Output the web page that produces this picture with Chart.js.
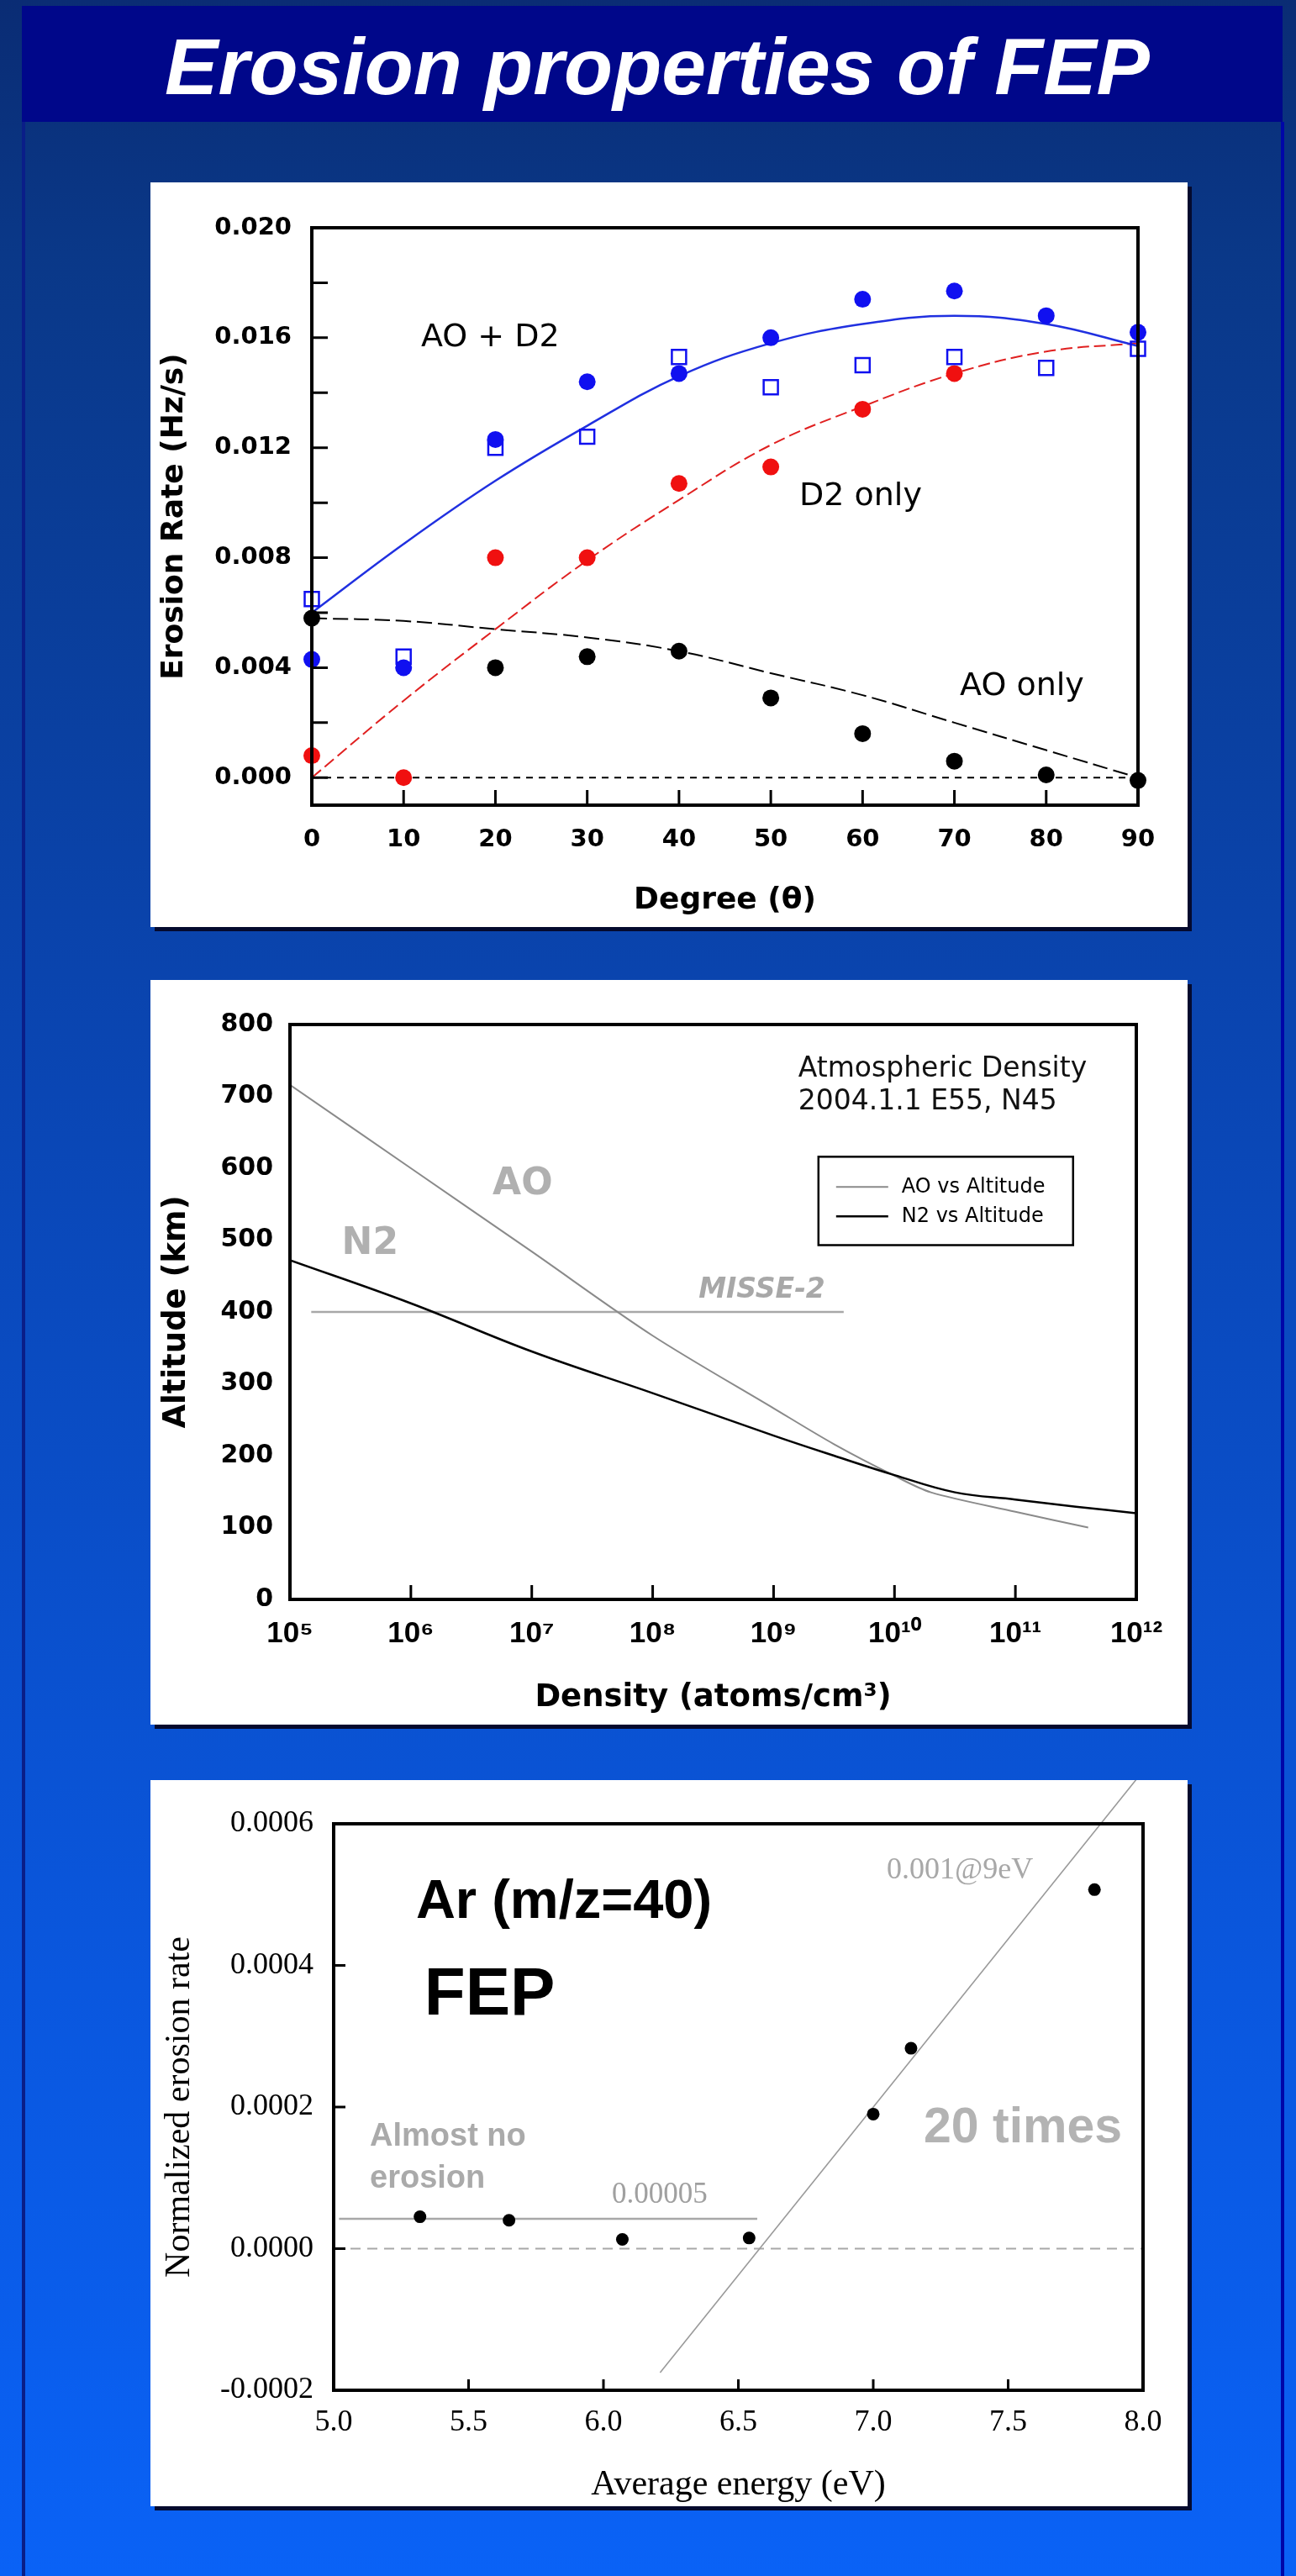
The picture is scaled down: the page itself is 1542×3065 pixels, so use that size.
<!DOCTYPE html>
<html>
<head>
<meta charset="utf-8">
<script src="https://cdn.jsdelivr.net/npm/chart.js@4.4.1/dist/chart.umd.min.js"></script>
<style>
  html, body { margin:0; padding:0; }
  body { width:1542px; height:3065px; position:relative; overflow:hidden;
    background: linear-gradient(180deg, #0a2c74 0px, #0a3888 300px, #0a46b4 1300px, #0a56dc 2300px, #0a62f6 3065px); }
  #panel { position:absolute; left:26px; top:145px; width:1494px; height:2920px; border-left:4px solid #0a1e88; border-right:4px solid #0006a8; }
  #titlebar { position:absolute; left:26px; top:7px; width:1500px; height:138px; background:#00078a; overflow:hidden; }
  #title { position:absolute; left:6px; top:18px; width:100%; height:120px; line-height:120px; text-align:center; color:#fff;
    font: italic bold 95px "Liberation Sans", Arial, sans-serif; margin:0; }
  .box { position:absolute; left:179px; width:1234px; background:#fff; box-shadow: 5px 5px 0 #040a2e; }
  .box canvas { display:block; }
</style>
</head>
<body>
<div id="panel"></div>
<div id="titlebar"><h1 id="title">Erosion properties of FEP</h1></div>
<div class="box" style="top:217px;height:886px"><canvas id="c1" width="1234" height="886"></canvas></div>
<div class="box" style="top:1166px;height:886px"><canvas id="c2" width="1234" height="886"></canvas></div>
<div class="box" style="top:2118px;height:864px"><canvas id="c3" width="1234" height="864"></canvas></div>
<script>
// ---------------- Chart 1 data: erosion rate vs angle ----------------
const c1Angles        = [0, 10, 20, 30, 40, 50, 60, 70, 80, 90];
const c1AoD2Dots      = [0.0043, 0.0040, 0.0123, 0.0144, 0.0147, 0.0160, 0.0174, 0.0177, 0.0168, 0.0162];
const c1AoD2Squares   = [0.0065, 0.0044, 0.0120, 0.0124, 0.0153, 0.0142, 0.0150, 0.0153, 0.0149, 0.0156];
const c1D2Dots        = [0.0008, 0.0000, 0.0080, 0.0080, 0.0107, 0.0113, 0.0134, 0.0147, null, null];
const c1AoDots        = [0.0058, null, 0.0040, 0.0044, 0.0046, 0.0029, 0.0016, 0.0006, 0.0001, -0.0001];
const c1AoD2Fit       = [0.0060, 0.0085, 0.0108, 0.0128, 0.0146, 0.0158, 0.0165, 0.0168, 0.0165, 0.0157];
const c1D2Fit         = [0.0000, 0.0028, 0.0054, 0.0079, 0.0101, 0.0121, 0.0135, 0.0147, 0.0155, 0.0158];
const c1AoFit         = [0.0058, 0.0057, 0.0054, 0.0051, 0.0046, 0.0038, 0.0030, 0.0020, 0.0010, 0.0000];
const c1ZeroX         = [0, 90];
const c1ZeroY         = [0, 0];
const c1XTicks        = [0, 10, 20, 30, 40, 50, 60, 70, 80, 90];
const c1YTicks        = [0.000, 0.004, 0.008, 0.012, 0.016, 0.020];
const c1YTickMarks    = [0.000, 0.002, 0.004, 0.006, 0.008, 0.010, 0.012, 0.014, 0.016, 0.018];
const c1XTickMarks    = [10, 20, 30, 40, 50, 60, 70, 80];

// ---------------- Chart 2 data: atmospheric density ----------------
const c2AoDensity     = [1e5, 1e6, 1e7, 1e8, 1e9, 3.16e9, 1e10, 2e10, 1e11, 4e11];
const c2AoAltitude    = [716, 600, 484, 367, 266, 216, 172, 149, 122, 100];
const c2N2Density     = [1e5, 1e6, 1e7, 1e8, 1e9, 3.16e9, 1e10, 3.16e10, 1e11, 3.16e11, 1e12];
const c2N2Altitude    = [472, 412, 345, 287, 228, 200, 173, 149, 139, 129, 120];
const c2MisseDensity  = [1.5e5, 3.8e9];
const c2MisseAltitude = [400, 400];
const c2XTicks        = [1e5, 1e6, 1e7, 1e8, 1e9, 1e10, 1e11, 1e12];
const c2YTicks        = [0, 100, 200, 300, 400, 500, 600, 700, 800];
const c2XTickMarks    = [1e6, 1e7, 1e8, 1e9, 1e10, 1e11];

// ---------------- Chart 3 data: Ar erosion vs energy ----------------
const c3Energy        = [5.32, 5.65, 6.07, 6.54, 7.00, 7.14, 7.82];
const c3Rate          = [0.000045, 0.000040, 0.000013, 0.000015, 0.000190, 0.000283, 0.000507];
const c3FitEnergy     = [6.21, 7.98];
const c3FitRate       = [-0.000175, 0.000665];
const c3LowEnergy     = [5.02, 6.57];
const c3LowRate       = [0.000042, 0.000042];
const c3ZeroEnergy    = [5.0, 8.0];
const c3ZeroRate      = [0, 0];
const c3XTicks        = [5.0, 5.5, 6.0, 6.5, 7.0, 7.5, 8.0];
const c3YTicks        = [-0.0002, 0.0000, 0.0002, 0.0004, 0.0006];
const c3XTickMarks    = [5.5, 6.0, 6.5, 7.0, 7.5];
const c3YTickMarks    = [0.0000, 0.0002, 0.0004];

// ---------------- helpers ----------------
Chart.defaults.animation = false;
Chart.defaults.color = '#000';

function pts(xs, ys) {
  const out = [];
  xs.forEach((x, i) => { if (ys[i] !== null && ys[i] !== undefined) out.push({x: x, y: ys[i]}); });
  return out;
}
const SUP = {'0':'\u2070','1':'\u00b9','2':'\u00b2','3':'\u00b3','4':'\u2074','5':'\u2075','6':'\u2076','7':'\u2077','8':'\u2078','9':'\u2079','-':'\u207b'};
function sup(n) { return String(n).split('').map(c => SUP[c]).join(''); }

function framePlugin(cfg) {
  return {
    id: 'frame_' + cfg.name,
    afterDatasetsDraw(chart) {
      const {ctx, chartArea: a, scales} = chart;
      const xs = scales.x, ys = scales.y;
      ctx.save();
      ctx.strokeStyle = '#000';
      ctx.lineWidth = 3;
      ctx.beginPath();
      (cfg.yMarks || []).forEach(v => { const y = ys.getPixelForValue(v); ctx.moveTo(a.left, y); ctx.lineTo(a.left + cfg.yLen, y); });
      (cfg.xMarks || []).forEach(v => { const x = xs.getPixelForValue(v); ctx.moveTo(x, a.bottom); ctx.lineTo(x, a.bottom - cfg.xLen); });
      ctx.stroke();
      ctx.lineWidth = cfg.border;
      ctx.strokeRect(a.left, a.top, a.right - a.left, a.bottom - a.top);
      (cfg.notes || []).forEach(n => {
        ctx.font = n.font;
        ctx.fillStyle = n.color || '#000';
        ctx.textAlign = n.align || 'left';
        ctx.textBaseline = 'middle';
        ctx.fillText(n.text, xs.getPixelForValue(n.x), ys.getPixelForValue(n.y));
      });
      if (cfg.legend) {
        const L = cfg.legend;
        const x0 = xs.getPixelForValue(L.x0), x1 = xs.getPixelForValue(L.x1);
        const y0 = ys.getPixelForValue(L.y0), y1 = ys.getPixelForValue(L.y1);
        ctx.lineWidth = 2.5;
        ctx.strokeStyle = '#000';
        ctx.strokeRect(x0, y0, x1 - x0, y1 - y0);
        L.items.forEach((idx, k) => {
          const ds = chart.data.datasets[idx];
          const yy = y0 + 36 + k * 35;
          ctx.strokeStyle = ds.borderColor;
          ctx.lineWidth = ds.borderWidth;
          ctx.beginPath(); ctx.moveTo(x0 + 21, yy); ctx.lineTo(x0 + 83, yy); ctx.stroke();
          ctx.fillStyle = '#000';
          ctx.font = '24px "DejaVu Sans"';
          ctx.textAlign = 'left';
          ctx.textBaseline = 'middle';
          ctx.fillText(ds.label, x0 + 99, yy);
        });
      }
      ctx.restore();
    }
  };
}

function axis(opts) {
  return {
    type: opts.type || 'linear',
    min: opts.min, max: opts.max,
    grid: {display: false, drawTicks: false},
    border: {display: false},
    afterBuildTicks: s => { s.ticks = opts.ticks.map(v => ({value: v})); },
    afterFit: s => { if (opts.width !== undefined) s.width = opts.width; if (opts.height !== undefined) s.height = opts.height; },
    ticks: {font: opts.tickFont, color: '#000', padding: opts.tickPad, maxRotation: 0, autoSkip: false, callback: opts.fmt},
    title: {display: true, text: opts.title, font: opts.titleFont, color: '#000', padding: opts.titlePad}
  };
}

// ---------------- Chart 1 ----------------
const c1Notes = [
  {text: 'AO + D2', x: 11.9, y: 0.0160, font: '38px "DejaVu Sans"'},
  {text: 'D2 only', x: 53.1, y: 0.0102, font: '38px "DejaVu Sans"'},
  {text: 'AO only', x: 70.6, y: 0.0033, font: '38px "DejaVu Sans"'}
];
new Chart(document.getElementById('c1'), {
  type: 'line',
  data: {datasets: [
    {label: 'AO + D2 (open)', data: pts(c1Angles, c1AoD2Squares), showLine: false, pointStyle: 'rect', pointRadius: 12,
     pointBackgroundColor: 'rgba(255,255,255,0)', pointBorderColor: '#1010f0', pointBorderWidth: 2.5, clip: false, order: 0},
    {label: 'AO + D2', data: pts(c1Angles, c1AoD2Dots), showLine: false, pointRadius: 10,
     pointBackgroundColor: '#1010f0', pointBorderColor: '#1010f0', pointBorderWidth: 0, clip: false, order: 1},
    {label: 'D2 only', data: pts(c1Angles, c1D2Dots), showLine: false, pointRadius: 10,
     pointBackgroundColor: '#f01010', pointBorderColor: '#f01010', pointBorderWidth: 0, clip: false, order: 2},
    {label: 'AO only', data: pts(c1Angles, c1AoDots), showLine: false, pointRadius: 10,
     pointBackgroundColor: '#000', pointBorderColor: '#000', pointBorderWidth: 0, clip: false, order: 3},
    {label: 'AO + D2 fit', data: pts(c1Angles, c1AoD2Fit), borderColor: '#2030e0', borderWidth: 2.5, pointRadius: 0, tension: 0.4, fill: false, clip: false, order: 5},
    {label: 'D2 fit', data: pts(c1Angles, c1D2Fit), borderColor: '#e02020', borderWidth: 2, borderDash: [14, 6], pointRadius: 0, tension: 0.4, fill: false, clip: false, order: 6},
    {label: 'AO fit', data: pts(c1Angles, c1AoFit), borderColor: '#000', borderWidth: 2, borderDash: [18, 7], pointRadius: 0, tension: 0.4, fill: false, clip: false, order: 7},
    {label: 'zero', data: pts(c1ZeroX, c1ZeroY), borderColor: '#000', borderWidth: 2, borderDash: [8, 7], pointRadius: 0, tension: 0, fill: false, order: 8}
  ]},
  options: {
    responsive: false, animation: false,
    layout: {padding: {top: 54, right: 59, left: 0, bottom: 0}},
    plugins: {legend: {display: false}, tooltip: {enabled: false}},
    scales: {
      x: axis({min: 0, max: 90, ticks: c1XTicks, height: 145, tickPad: 24,
        tickFont: {family: 'DejaVu Sans', weight: 'bold', size: 29}, fmt: v => String(v),
        title: 'Degree (\u03b8)', titleFont: {family: 'DejaVu Sans', weight: 'bold', size: 36}, titlePad: {top: 0, bottom: 10}}),
      y: axis({min: -0.001, max: 0.020, ticks: c1YTicks, width: 192, tickPad: 24,
        tickFont: {family: 'DejaVu Sans', weight: 'bold', size: 29}, fmt: v => Number(v).toFixed(3),
        title: 'Erosion Rate (Hz/s)', titleFont: {family: 'DejaVu Sans', weight: 'bold', size: 36}, titlePad: {top: 7, bottom: 0}})
    }
  },
  plugins: [framePlugin({name: 'c1', border: 4, yMarks: c1YTickMarks, yLen: 19, xMarks: c1XTickMarks, xLen: 18, notes: c1Notes})]
});

// ---------------- Chart 2 ----------------
const c2Notes = [
  {text: 'AO', x: 8.4e6, y: 577, font: 'bold 44px "DejaVu Sans"', color: '#b0b0b0', align: 'center'},
  {text: 'N2', x: 4.6e5, y: 494, font: 'bold 44px "DejaVu Sans"', color: '#b0b0b0', align: 'center'},
  {text: 'MISSE-2', x: 8.0e8, y: 430, font: 'italic bold 33px "DejaVu Sans"', color: '#a8a8a8', align: 'center'},
  {text: 'Atmospheric Density', x: 1.6e9, y: 738, font: '33px "DejaVu Sans"', color: '#111'},
  {text: '2004.1.1 E55, N45', x: 1.6e9, y: 692, font: '33px "DejaVu Sans"', color: '#111'}
];
new Chart(document.getElementById('c2'), {
  type: 'line',
  data: {datasets: [
    {label: 'AO vs Altitude', data: pts(c2AoDensity, c2AoAltitude), borderColor: '#8a8a8a', borderWidth: 2, pointRadius: 0, tension: 0.3, fill: false, order: 1},
    {label: 'N2 vs Altitude', data: pts(c2N2Density, c2N2Altitude), borderColor: '#000', borderWidth: 2.5, pointRadius: 0, tension: 0.4, fill: false, order: 0},
    {label: 'MISSE-2', data: pts(c2MisseDensity, c2MisseAltitude), borderColor: '#a8a8a8', borderWidth: 2.5, pointRadius: 0, tension: 0, fill: false, order: 2}
  ]},
  options: {
    responsive: false, animation: false,
    layout: {padding: {top: 53, right: 61, left: 0, bottom: 0}},
    plugins: {legend: {display: false}, tooltip: {enabled: false}},
    scales: {
      x: axis({type: 'logarithmic', min: 1e5, max: 1e12, ticks: c2XTicks, height: 149, tickPad: 20,
        tickFont: {family: 'Liberation Sans', weight: 'bold', size: 35}, fmt: v => '10' + sup(Math.round(Math.log10(v))),
        title: 'Density (atoms/cm\u00b3)', titleFont: {family: 'DejaVu Sans', weight: 'bold', size: 37}, titlePad: {top: 0, bottom: 9}}),
      y: axis({min: 0, max: 800, ticks: c2YTicks, width: 166, tickPad: 20,
        tickFont: {family: 'DejaVu Sans', weight: 'bold', size: 30}, fmt: v => String(v),
        title: 'Altitude (km)', titleFont: {family: 'DejaVu Sans', weight: 'bold', size: 37}, titlePad: {top: 9, bottom: 0}})
    }
  },
  plugins: [framePlugin({name: 'c2', border: 4, xMarks: c2XTickMarks, xLen: 17, notes: c2Notes,
    legend: {x0: 2.35e9, x1: 3.0e11, y0: 616, y1: 493, items: [0, 1]}})]
});

// ---------------- Chart 3 ----------------
const c3Notes = [
  {text: 'Ar (m/z=40)', x: 5.305, y: 0.000488, font: 'bold 65px "Liberation Sans"'},
  {text: 'FEP', x: 5.336, y: 0.000357, font: 'bold 80px "Liberation Sans"'},
  {text: '20 times', x: 7.187, y: 0.000170, font: 'bold 59px "Liberation Sans"', color: '#b3b3b3'},
  {text: 'Almost no', x: 5.134, y: 0.000158, font: 'bold 38px "Liberation Sans"', color: '#aaaaaa'},
  {text: 'erosion', x: 5.134, y: 0.000099, font: 'bold 38px "Liberation Sans"', color: '#aaaaaa'},
  {text: '0.00005', x: 6.031, y: 0.0000752, font: '35px "Liberation Serif"', color: '#a0a0a0'},
  {text: '0.001@9eV', x: 7.05, y: 0.000534, font: '36px "Liberation Serif"', color: '#a8a8a8'}
];
new Chart(document.getElementById('c3'), {
  type: 'line',
  data: {datasets: [
    {label: 'Ar', data: pts(c3Energy, c3Rate), showLine: false, pointRadius: 7.5,
     pointBackgroundColor: '#000', pointBorderColor: '#000', pointBorderWidth: 0, clip: false, order: 0},
    {label: 'fit', data: pts(c3FitEnergy, c3FitRate), borderColor: '#9a9a9a', borderWidth: 1.6, pointRadius: 0, tension: 0, fill: false, clip: false, order: 1},
    {label: 'low', data: pts(c3LowEnergy, c3LowRate), borderColor: '#a8a8a8', borderWidth: 2.5, pointRadius: 0, tension: 0, fill: false, order: 2},
    {label: 'zero', data: pts(c3ZeroEnergy, c3ZeroRate), borderColor: '#a8a8a8', borderWidth: 2, borderDash: [12, 8], pointRadius: 0, tension: 0, fill: false, order: 3}
  ]},
  options: {
    responsive: false, animation: false,
    layout: {padding: {top: 52, right: 53, left: 0, bottom: 0}},
    plugins: {legend: {display: false}, tooltip: {enabled: false}},
    scales: {
      x: axis({min: 5.0, max: 8.0, ticks: c3XTicks, height: 138, tickPad: 17,
        tickFont: {family: 'Liberation Serif', size: 36}, fmt: v => Number(v).toFixed(1),
        title: 'Average energy (eV)', titleFont: {family: 'Liberation Serif', size: 42}, titlePad: {top: 0, bottom: 0}}),
      y: axis({min: -0.0002, max: 0.0006, ticks: c3YTicks, width: 218, tickPad: 24,
        tickFont: {family: 'Liberation Serif', size: 36}, fmt: v => Number(v).toFixed(4),
        title: 'Normalized erosion rate', titleFont: {family: 'Liberation Serif', size: 42}, titlePad: {top: 10, bottom: 0}})
    }
  },
  plugins: [framePlugin({name: 'c3', border: 4, yMarks: c3YTickMarks, yLen: 14, xMarks: c3XTickMarks, xLen: 13, notes: c3Notes})]
});
</script>
</body>
</html>
